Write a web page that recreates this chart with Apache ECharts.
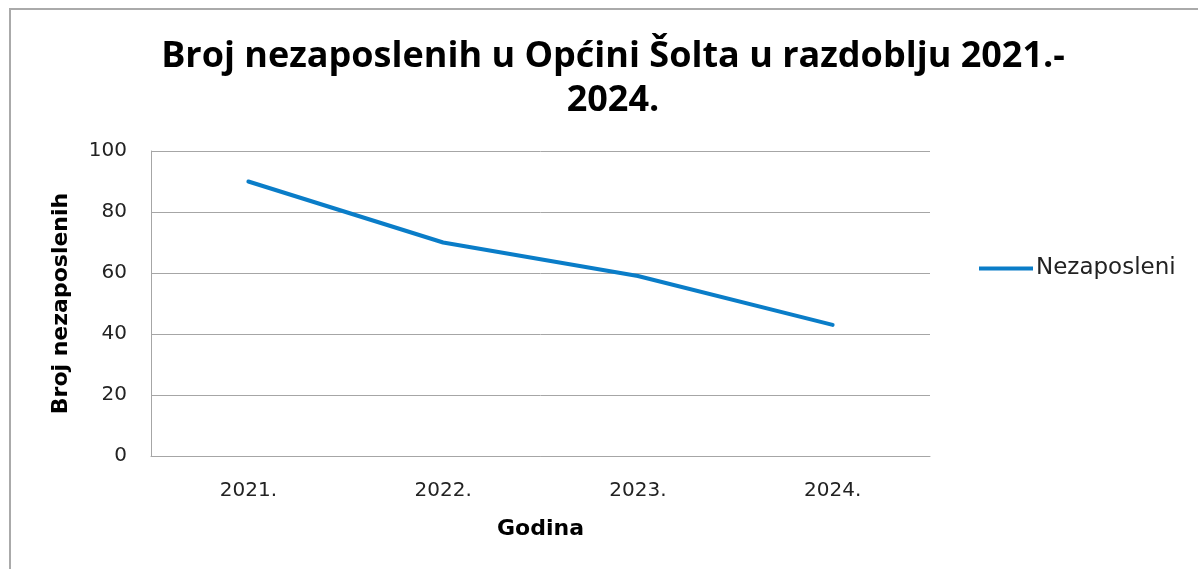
<!DOCTYPE html>
<html>
<head>
<meta charset="utf-8">
<script src="https://cdn.jsdelivr.net/npm/echarts@6/dist/echarts.min.js"></script>
<style>
  html, body { margin: 0; padding: 0; background: #fff; }
  #chart { width: 1198px; height: 569px; }
</style>
</head>
<body>
<div id="chart"></div>
<script>
// podaci
var godine = ['2021.', '2022.', '2023.', '2024.'];
var nezaposleni = [90, 70, 59, 43];
var naslov = 'Broj nezaposlenih u Općini Šolta u razdoblju 2021.-\n2024.';

var font = '"DejaVu Sans", sans-serif';
var fontNaslov = '"Open Sans", "DejaVu Sans", sans-serif';
var chart = echarts.init(document.getElementById('chart'));

chart.setOption({
	animation: false,
	textStyle: { fontFamily: font },
	graphic: [{
		type: 'rect',
		shape: { x: 10, y: 9, width: 1200, height: 600 },
		style: { fill: 'none', stroke: '#aaaaaa', lineWidth: 2 },
		silent: true
	}],
	title: {
		text: naslov,
		left: 608,
		top: 30,
		textAlign: 'center',
		textStyle: {
			fontFamily: fontNaslov,
			fontSize: 36,
			fontWeight: 'bold',
			color: '#000',
			lineHeight: 44
		}
	},
	legend: {
		left: 974,
		top: 252,
		itemWidth: 54,
		itemHeight: 4,
		itemGap: 6,
		icon: 'rect',
		data: ['Nezaposleni'],
		textStyle: { fontFamily: font, fontSize: 23, color: '#222', padding: [0, 0, 0, -2] }
	},
	grid: {
		left: 151,
		right: 268,
		top: 151,
		bottom: 113
	},
	xAxis: {
		type: 'category',
		boundaryGap: true,
		data: godine,
		name: 'Godina',
		nameLocation: 'middle',
		nameGap: 62,
		nameTextStyle: { fontFamily: font, fontSize: 22, fontWeight: 'bold', color: '#000' },
		axisLine: { lineStyle: { color: '#a6a6a6', width: 1 } },
		axisTick: { show: false },
		axisLabel: { fontSize: 20, color: '#222', margin: 25 }
	},
	yAxis: {
		type: 'value',
		min: 0,
		max: 100,
		interval: 20,
		name: 'Broj nezaposlenih',
		nameLocation: 'middle',
		nameGap: 79,
		nameRotate: 90,
		nameTextStyle: { fontFamily: font, fontSize: 22, fontWeight: 'bold', color: '#000' },
		axisLine: { show: true, lineStyle: { color: '#a6a6a6', width: 1 } },
		axisTick: { show: false },
		splitLine: { lineStyle: { color: '#a6a6a6', width: 1 } },
		axisLabel: { fontSize: 20, color: '#222', margin: 24 }
	},
	series: [{
		name: 'Nezaposleni',
		type: 'line',
		data: nezaposleni,
		symbol: 'none',
		itemStyle: { color: '#0a7dc8' },
		lineStyle: { color: '#0a7dc8', width: 4, cap: 'round' }
	}]
});
</script>
</body>
</html>
